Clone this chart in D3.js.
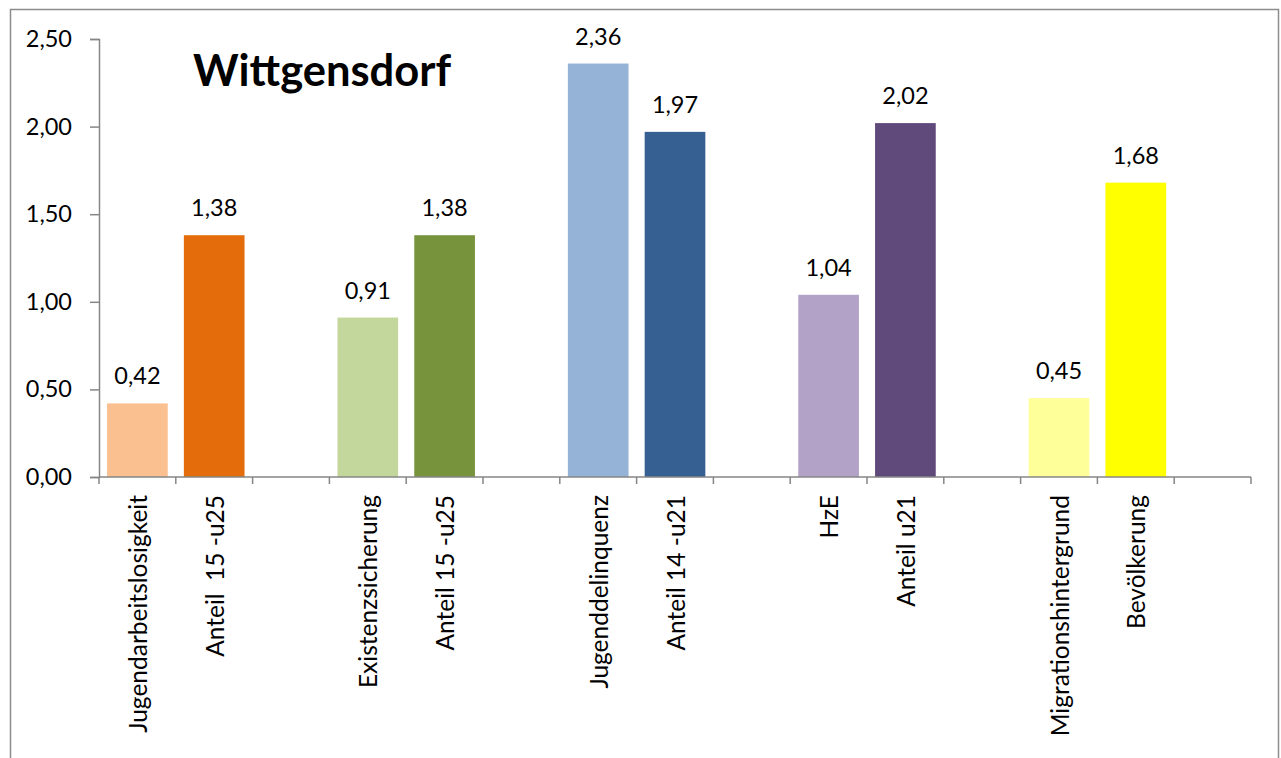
<!DOCTYPE html>
<html><head><meta charset="utf-8">
<script src="https://cdn.jsdelivr.net/npm/d3@7"></script>
<style>
html,body{margin:0;padding:0;background:#fff;}
svg{display:block;font-family:Lato,"Open Sans",sans-serif;}
</style></head>
<body>
<svg id="chart" width="1281" height="758"></svg>
<script>
const title = "Wittgensdorf";
const categories = ["Jugendarbeitslosigkeit","Anteil  15 -u25","","Existenzsicherung","Anteil 15 -u25","","Jugenddelinquenz","Anteil 14 -u21","","HzE","Anteil u21","","Migrationshintergrund","Bevölkerung",""];
const values = [0.42,1.38,null,0.91,1.38,null,2.36,1.97,null,1.04,2.02,null,0.45,1.68,null];
const colors = ["#FAC090","#E46C0A",null,"#C3D69B","#77933C",null,"#95B3D7","#366092",null,"#B3A2C7","#604A7B",null,"#FFFF99","#FFFF00",null];
const yTicks = [0,0.5,1,1.5,2,2.5];

(function(){
const svg = d3.select("#chart");
const mL = 99, mR = 1251, mT = 39, mB = 477;
const axisColor = "#868686";

svg.append("rect").attr("x",10.5).attr("y",9.5).attr("width",1268).attr("height",760)
  .attr("fill","none").attr("stroke","#8c8c8c").attr("stroke-width",1.5);

const x = d3.scaleBand().domain(d3.range(categories.length)).range([mL,mR]).paddingInner(0.21).paddingOuter(0.105);
const slot = d3.scaleBand().domain(d3.range(categories.length)).range([mL,mR]);
const y = d3.scaleLinear().domain([0,2.5]).range([mB,mT]);
const fmt = v => d3.format(".2f")(v).replace(".",",");

const ya = svg.append("g").attr("transform",`translate(${mL},0)`)
  .call(d3.axisLeft(y).tickValues(yTicks).tickSize(9).tickPadding(18).tickFormat(fmt));
ya.select(".domain").attr("stroke",axisColor).attr("stroke-width",1.5);
ya.selectAll(".tick line").attr("stroke",axisColor).attr("stroke-width",1.5);
ya.selectAll(".tick text").attr("font-size",23.5).attr("fill","#000").attr("font-family","Lato");

const data = categories.map((c,i)=>({i,c,v:values[i],col:colors[i]}));
svg.append("g").selectAll("rect").data(data.filter(d=>d.v!=null)).join("rect")
  .attr("x",d=>x(d.i)).attr("width",x.bandwidth())
  .attr("y",d=>y(d.v)).attr("height",d=>y(0)-y(d.v))
  .attr("fill",d=>d.col);

svg.append("g").selectAll("text").data(data.filter(d=>d.v!=null)).join("text")
  .attr("x",d=>x(d.i)+x.bandwidth()/2).attr("y",d=>y(d.v)-19)
  .attr("text-anchor","middle").attr("font-size",23.5).attr("fill","#000")
  .text(d=>fmt(d.v));

const xa = svg.append("g").attr("transform",`translate(0,${mB})`);
xa.append("line").attr("x1",mL).attr("x2",mR).attr("stroke",axisColor).attr("stroke-width",1.5);
const bounds = d3.range(categories.length+1).map(k=>k<categories.length?slot(k):mR);
xa.selectAll("line.t").data(bounds).join("line").attr("class","t")
  .attr("x1",d=>d).attr("x2",d=>d).attr("y1",0).attr("y2",7)
  .attr("stroke",axisColor).attr("stroke-width",1.5);
xa.selectAll("text").data(data.filter(d=>d.c!=="")).join("text")
  .attr("transform",d=>`translate(${slot(d.i)+slot.bandwidth()/2+1},${18}) rotate(-90)`)
  .attr("text-anchor","end").attr("dy","0.35em")
  .attr("font-size",24.5).attr("fill","#000").style("white-space","pre")
  .text(d=>d.c);

svg.append("text").attr("x",193).attr("y",86).attr("font-size",43.5).attr("font-weight","bold")
  .attr("fill","#000").text(title);
})();
</script>
</body></html>
